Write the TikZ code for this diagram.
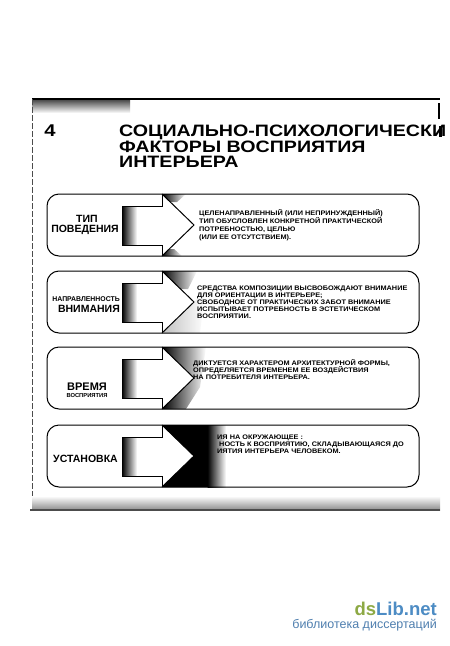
\documentclass[tikz,border=0pt]{standalone}
\usepackage{fontspec}
\setmainfont{Liberation Sans}
\newfontfamily\titlefont[FakeStretch=1.19]{Liberation Sans}
\newfontfamily\descfont[FakeStretch=1.11]{Liberation Sans}
\usetikzlibrary{calc}
\definecolor{wmgreen}{HTML}{8DA944}
\definecolor{wmblue}{HTML}{4D8CC4}
\definecolor{wmgrey}{HTML}{4F7FAF}
\newcommand{\tightlines}{\setlength{\lineskiplimit}{-6pt}}
\newcommand{\ArrowRow}[2]{%
  \begin{scope}[shift={(0,#1)}]
    #2
    \shade[left color=black, middle color=black!85, right color=white] (122,12) rectangle (137,51);
    \draw[outl] (162,0) -- (162,12) -- (122,12) -- (122,51) -- (162,51) -- (162,62);
    \draw[outl] (162,0) -- (194,31) -- (162,62);
    \draw[frame] (47,0) rectangle (419,62);
  \end{scope}}
\begin{document}
\begin{tikzpicture}[x=1pt,y=-1pt,
  lbl/.style={font=\bfseries\fontsize{10.5}{10.5}\selectfont, inner sep=0pt, anchor=base},
  desc/.style={font=\descfont\bfseries\fontsize{6.6}{7}\selectfont\tightlines, inner sep=0pt, align=left, anchor=west},
  frame/.style={rounded corners=12pt, line width=1pt},
  outl/.style={line width=1pt, line join=miter},
  noise/.style={black!70, line width=0.8pt}]
\useasboundingbox (0,0) rectangle (450,646);
\fill[white] (0,0) rectangle (450,646);

% scan border
\shade[top color=black, bottom color=white, opacity=0.8] (32,98) rectangle (130,113);
\draw[line width=1.6pt] (32,99) -- (440,99);
\draw[line width=2.2pt] (439,103) -- (439,119);
\draw[noise, dash pattern=on 6pt off 2pt] (32,99) -- (32,510);
\shade[top color=white, bottom color=black!45] (32,496) rectangle (440,510);
\draw[noise, line width=1.2pt] (30,510) -- (440,510);

% title
\node[font=\titlefont\bfseries\fontsize{17}{17}\selectfont, inner sep=0pt] (num) at (50,131) {4};
\node[font=\titlefont\bfseries\fontsize{16.5}{15.6}\selectfont, inner sep=0pt, align=left, anchor=north west] (title) at (119,125)
  {СОЦИАЛЬНО-ПСИХОЛОГИЧЕСКИ\\ФАКТОРЫ ВОСПРИЯТИЯ\\ИНТЕРЬЕРА};
\fill[black] (439,125.5) rectangle (441.5,137);

% row 1
\ArrowRow{194}{%
  \shade[left color=black, right color=white] (162,0) -- (186,0) -- (177,8) -- (170,8) -- cycle;
  \shade[left color=black, right color=white] (162,62) -- (182,62) -- (174,55) -- (169,55) -- cycle;}
\node[lbl] (l1a) at (87,222) {ТИП};
\node[lbl] (l1b) at (85,232.5) {ПОВЕДЕНИЯ};
\node[desc, font=\descfont\bfseries\fontsize{6.6}{8}\selectfont\tightlines] (d1) at (199,225)
  {ЦЕЛЕНАПРАВЛЕННЫЙ (ИЛИ НЕПРИНУЖДЕННЫЙ)\\ТИП ОБУСЛОВЛЕН КОНКРЕТНОЙ ПРАКТИЧЕСКОЙ\\ПОТРЕБНОСТЬЮ, ЦЕЛЬЮ\\(ИЛИ ЕЕ ОТСУТСТВИЕМ).};

% row 2
\ArrowRow{271}{%
  \shade[left color=black!70, right color=white, opacity=0.35] (194,31) -- (162,62) -- (200,62) -- (205,20) -- cycle;
  \shade[left color=black, right color=white] (162,0) -- (197,0) -- (188,18) -- (180,18) -- cycle;}
\node[inner sep=0pt, anchor=base east, font=\bfseries\fontsize{6.9}{6.9}\selectfont] (l2a) at (120,301) {НАПРАВЛЕННОСТЬ};
\node[inner sep=0pt, anchor=base east, font=\bfseries\fontsize{10.5}{10.5}\selectfont] (l2b) at (120,312.5) {ВНИМАНИЯ};
\node[desc] (d2) at (197,302)
  {СРЕДСТВА КОМПОЗИЦИИ ВЫСВОБОЖДАЮТ ВНИМАНИЕ\\ДЛЯ ОРИЕНТАЦИИ В ИНТЕРЬЕРЕ;\\СВОБОДНОЕ ОТ ПРАКТИЧЕСКИХ ЗАБОТ ВНИМАНИЕ\\ИСПЫТЫВАЕТ ПОТРЕБНОСТЬ В ЭСТЕТИЧЕСКОМ\\ВОСПРИЯТИИ.};

% row 3
\ArrowRow{347}{%
  \shade[left color=black, middle color=black!75, right color=white] (162,0) -- (206,0) -- (200,40) -- (186,62) -- (162,62) -- (194,31) -- cycle;}
\node[inner sep=0pt, anchor=base, font=\bfseries\fontsize{11}{11}\selectfont] (l3a) at (87,390) {ВРЕМЯ};
\node[inner sep=0pt, anchor=base, font=\bfseries\fontsize{5.8}{5.8}\selectfont] (l3b) at (87,397) {ВОСПРИЯТИЯ};
\node[desc] (d3) at (193,369.5)
  {ДИКТУЕТСЯ ХАРАКТЕРОМ АРХИТЕКТУРНОЙ ФОРМЫ,\\ОПРЕДЕЛЯЕТСЯ ВРЕМЕНЕМ ЕЕ ВОЗДЕЙСТВИЯ\\НА ПОТРЕБИТЕЛЯ ИНТЕРЬЕРА.};

% row 4
\ArrowRow{425}{%
  \fill[black] (162,0) -- (208,0) -- (208,62) -- (162,62) -- (194,31) -- cycle;
  \shade[left color=black, right color=white] (207.5,0) rectangle (226,62);}
\node[lbl] (l4) at (85.5,462) {УСТАНОВКА};
\node[desc] (d4) at (217,444.5)
  {ИЯ НА ОКРУЖАЮЩЕЕ :\\\ НОСТЬ К ВОСПРИЯТИЮ, СКЛАДЫВАЮЩАЯСЯ ДО\\ИЯТИЯ ИНТЕРЬЕРА ЧЕЛОВЕКОМ.};

% watermark
\node[inner sep=0pt, anchor=base east, font=\bfseries\fontsize{18.5}{18.5}\selectfont] (wm) at (437,615)
  {\textcolor{wmgreen}{ds}\textcolor{wmblue}{Lib.net}};
\node[inner sep=0pt, anchor=base east, font=\fontsize{12.5}{12.5}\selectfont, text=wmgrey] (wm2) at (437,628)
  {библиотека диссертаций};
\end{tikzpicture}
\end{document}
